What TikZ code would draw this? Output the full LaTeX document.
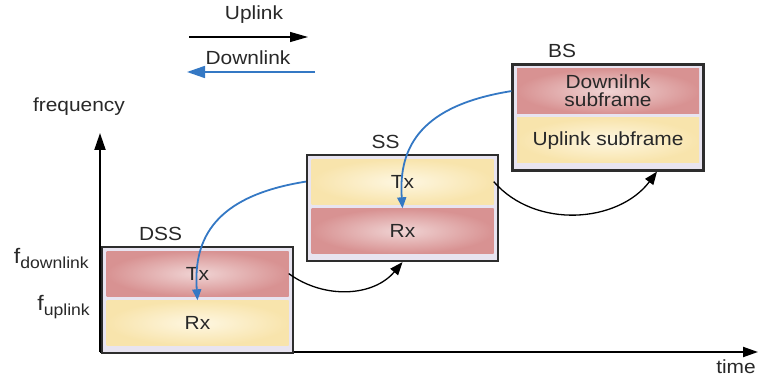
\documentclass[tikz,border=0pt]{standalone}
\usepackage{fontspec}
\setmainfont{Liberation Sans}[FakeStretch=1.1]
\usetikzlibrary{arrows.meta,positioning}
\definecolor{framegray}{RGB}{45,45,45}
\definecolor{framefill}{RGB}{232,228,240}
\definecolor{redlight}{RGB}{240,212,212}
\definecolor{reddark}{RGB}{216,146,146}
\definecolor{yellowlight}{RGB}{254,247,226}
\definecolor{yellowdark}{RGB}{248,228,172}
\definecolor{linkblue}{RGB}{52,120,196}
\definecolor{textgray}{RGB}{40,40,40}
\newcommand{\lowsub}[1]{\raisebox{-0.5ex}{\fontsize{16}{16}\selectfont #1}}
\tikzset{
  boxframe/.style={draw=framegray, line width=2.2pt, fill=framefill, minimum width=191pt, minimum height=106pt, inner sep=0pt},
  redband/.style={inner color=redlight, outer color=reddark, minimum width=182pt, minimum height=45pt, inner sep=0pt, align=center},
  yellowband/.style={inner color=yellowlight, outer color=yellowdark, minimum width=182pt, minimum height=45pt, inner sep=0pt, align=center},
  bluearrow/.style={draw=linkblue, line width=1.8pt, -{Triangle[length=11pt,width=9pt]}},
  blackarrow/.style={draw=black, line width=1.3pt, -{Triangle[length=13pt,width=10pt]}},
}
\begin{document}
\begin{tikzpicture}[x=1pt, y=1pt, font=\fontsize{19}{21}\selectfont, text=textgray]
\useasboundingbox (0,0) rectangle (759,377);

\node (uplink_label) at (254,362) {Uplink};
\node (downlink_label) at (248,319) {Downlink};
\coordinate (up_start) at (189,340);
\coordinate (up_end) at (308,340);
\coordinate (down_start) at (315,305);
\coordinate (down_end) at (187,305);
\draw [line width=1.2pt, -{Triangle[length=18pt,width=10pt]}] (up_start) -- (up_end);
\draw [draw=linkblue, line width=1.6pt, -{Triangle[length=18pt,width=12pt]}] (down_start) -- (down_end);

\coordinate (origin) at (100,25);
\coordinate (freq_end) at (100,244);
\coordinate (time_end) at (758,25);
\draw [line width=2pt, -{Triangle[length=17pt,width=11pt]}] (origin) -- (freq_end);
\draw [line width=2pt, -{Triangle[length=15pt,width=10pt]}] (origin) -- (time_end);
\node (freq_label) at (79,270) {frequency};
\node (time_label) at (736,10) {time};

\node (dss_frame) at (197.5,77) [boxframe] {};
\node (dss_tx) [redband, below=5pt of dss_frame.north] {Tx};
\node (dss_rx) [yellowband, below=4pt of dss_tx] {Rx};
\node (dss_name) at (dss_frame.north) [above=2pt, xshift=-37pt] {DSS};
\node (f_down) at (dss_tx.west) [left=14pt, yshift=15pt, font=\fontsize{21}{21}\selectfont] {f\lowsub{downlink}};
\node (f_up) at (dss_rx.west) [left=13pt, yshift=16pt, font=\fontsize{21}{21}\selectfont] {f\lowsub{uplink}};

\node (ss_frame) at (402.5,169) [boxframe] {};
\node (ss_tx) [yellowband, below=5pt of ss_frame.north] {Tx};
\node (ss_rx) [redband, below=4pt of ss_tx] {Rx};
\node (ss_name) at (ss_frame.north) [above=2pt, xshift=-17pt] {SS};

\node (bs_frame) at (608,259.5) [boxframe] {};
\node (bs_down) [redband, below=5pt of bs_frame.north] {Downilnk\\[-3pt]subframe};
\node (bs_up) [yellowband, below=4pt of bs_down] {Uplink subframe};
\node (bs_name) at (bs_frame.north) [above=2pt, xshift=-46pt] {BS};

\draw [blackarrow] (dss_tx.east) to[out=-36, in=230] (ss_frame.south);
\draw [blackarrow] (ss_tx.east) to[out=-49, in=233] ([xshift=49pt]bs_frame.south);

\draw [bluearrow] (ss_frame.west |- ss_tx) to[out=189, in=94, out looseness=1.45] (dss_rx.north);
\draw [bluearrow] (bs_frame.west |- bs_down) to[out=189, in=94, out looseness=1.45] (ss_rx.north);

\end{tikzpicture}
\end{document}
